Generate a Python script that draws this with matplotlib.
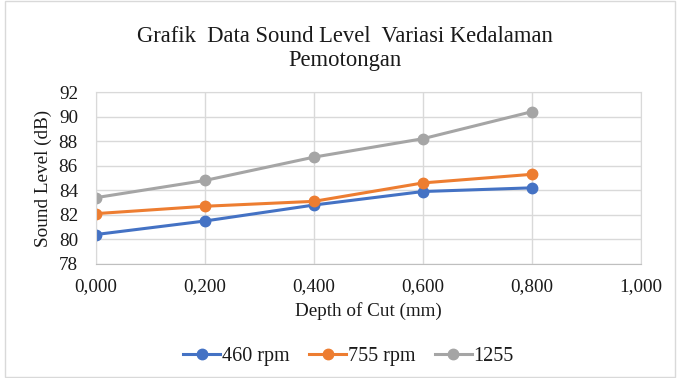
import matplotlib
matplotlib.use("Agg")
import matplotlib.pyplot as plt
from matplotlib.ticker import FuncFormatter, MultipleLocator
from matplotlib.patches import Rectangle

depth = [0.0, 0.2, 0.4, 0.6, 0.8]
rpm460 = [80.4, 81.5, 82.8, 83.9, 84.2]
rpm755 = [82.1, 82.7, 83.1, 84.6, 85.3]
rpm1255 = [83.4, 84.8, 86.7, 88.2, 90.4]
labels = ["460 rpm", "755 rpm", "1255"]
colors = ["#4472C4", "#ED7D31", "#A5A5A5"]

plt.rcParams['font.family'] = ['Liberation Serif', 'DejaVu Serif']
txt = '#1A1A1A'

fig = plt.figure(figsize=(6.77, 3.78), dpi=100)
ax = fig.add_axes([0.1418, 0.3016, 0.805, 0.455])

for ys, lab, c in zip([rpm460, rpm755, rpm1255], labels, colors):
    ax.plot(depth, ys, color=c, lw=2.2, marker='o', ms=7.5, label=lab)

ax.set_xlim(0, 1.0)
ax.set_ylim(78, 92)
ax.xaxis.set_major_locator(MultipleLocator(0.2))
ax.yaxis.set_major_locator(MultipleLocator(2))
ax.xaxis.set_major_formatter(FuncFormatter(lambda v, p: f"{v:.3f}".replace('.', ',')))
ax.grid(True, color='#D9D9D9', lw=1)
ax.set_axisbelow(True)
for s in ['top', 'right', 'left']:
    ax.spines[s].set_color('#D9D9D9')
ax.spines['bottom'].set_color('#BFBFBF')
ax.tick_params(axis='x', length=0, labelsize=13.8, colors=txt, pad=10)
ax.tick_params(axis='y', length=0, labelsize=13.8, colors=txt, pad=13)
ax.set_xlabel("Depth of Cut (mm)", fontsize=13.8, color=txt, labelpad=5)
ax.set_ylabel("Sound Level (dB)", fontsize=13.8, color=txt, labelpad=5)

fig.text(0.51, 0.872, "Grafik  Data Sound Level  Variasi Kedalaman\nPemotongan",
         ha='center', va='center', fontsize=16.3, color=txt, linespacing=1.15)

fig.legend(loc='center', bbox_to_anchor=(0.515, 0.058), ncol=3, frameon=False,
           fontsize=14.5, handlelength=1.8, columnspacing=1.0, handletextpad=0.1,
           labelcolor=txt)

fig.patches.append(Rectangle((0.007, 0.002), 0.99, 0.996, transform=fig.transFigure,
                             fill=False, edgecolor='#D9D9D9', lw=1))

fig.savefig("out.png", dpi=100)
